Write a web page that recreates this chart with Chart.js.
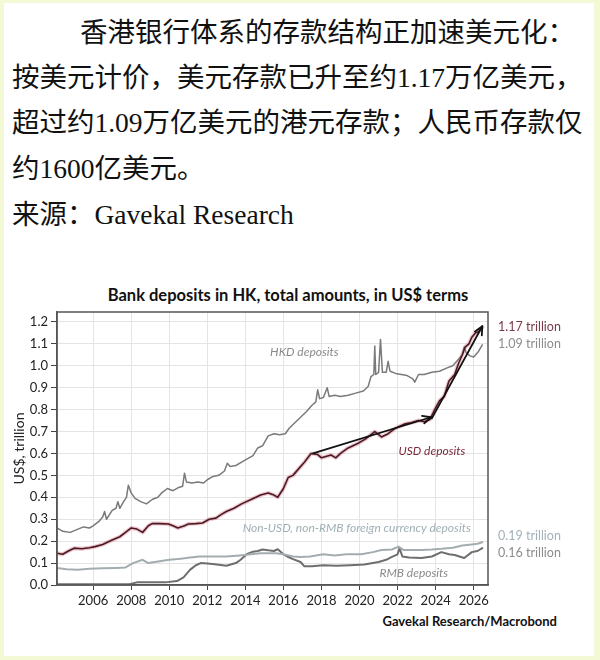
<!DOCTYPE html>
<html><head><meta charset="utf-8">
<script src="https://cdn.jsdelivr.net/npm/chart.js@4.4.1/dist/chart.umd.min.js"></script>
<style>
html,body{margin:0;padding:0;}
body{width:600px;height:660px;background:#f2f9d4;position:relative;overflow:hidden;}
#page{position:absolute;left:4px;top:3px;width:590px;height:653px;background:#fff;}
.cn{position:absolute;left:12px;font-family:"Liberation Serif","Noto Sans CJK SC",serif;font-size:27.5px;color:#111;white-space:nowrap;line-height:36px;}
#title{position:absolute;left:88px;width:400px;top:285px;line-height:20px;text-align:center;font-family:Lato,sans-serif;font-weight:700;font-size:16.5px;color:#111;white-space:nowrap;}
#source{position:absolute;right:43px;top:612px;line-height:18px;font-family:Lato,sans-serif;font-weight:700;font-size:13px;color:#111;white-space:nowrap;}
canvas{position:absolute;left:0;top:0;}
</style></head>
<body>
<div id="page"></div>
<div class="cn" style="top:15px;text-indent:68px;">香港银行体系的存款结构正加速美元化：</div>
<div class="cn" style="top:60px;">按美元计价，美元存款已升至约1.17万亿美元，</div>
<div class="cn" style="top:105px;">超过约1.09万亿美元的港元存款；人民币存款仅</div>
<div class="cn" style="top:151px;">约1600亿美元。</div>
<div class="cn" style="top:197px;">来源：Gavekal Research</div>
<div id="title">Bank deposits in HK, total amounts, in US$ terms</div>
<div id="source">Gavekal Research/Macrobond</div>
<canvas id="c" width="600" height="660"></canvas>
<script>
const hkdYears = [2004.1,2004.4,2004.8,2005.2,2005.5,2005.8,2006.0,2006.3,2006.5,2006.6,2006.7,2007.0,2007.2,2007.3,2007.4,2007.6,2007.75,2007.85,2008.0,2008.2,2008.5,2008.8,2009.1,2009.4,2009.6,2009.9,2010.2,2010.5,2010.7,2010.8,2010.9,2011.2,2011.5,2011.8,2012.0,2012.3,2012.6,2012.9,2013.05,2013.2,2013.5,2013.8,2014.1,2014.4,2014.65,2014.9,2015.2,2015.5,2015.8,2016.1,2016.3,2016.6,2016.9,2017.2,2017.5,2017.7,2017.8,2017.9,2018.1,2018.3,2018.4,2018.7,2019.0,2019.4,2019.8,2020.2,2020.45,2020.6,2020.75,2020.8,2020.85,2021.0,2021.1,2021.2,2021.4,2021.5,2021.6,2021.9,2022.2,2022.5,2022.8,2022.9,2023.1,2023.4,2023.8,2024.2,2024.6,2024.9,2025.2,2025.4,2025.5,2025.6,2025.8,2026.0,2026.25,2026.45];
const hkdValues = [0.26,0.245,0.24,0.255,0.265,0.26,0.27,0.29,0.31,0.335,0.30,0.34,0.35,0.38,0.35,0.38,0.40,0.455,0.42,0.395,0.38,0.37,0.39,0.40,0.42,0.44,0.43,0.445,0.45,0.51,0.47,0.465,0.47,0.465,0.48,0.495,0.50,0.52,0.555,0.54,0.545,0.56,0.575,0.59,0.625,0.635,0.68,0.69,0.685,0.69,0.715,0.74,0.765,0.79,0.82,0.835,0.89,0.85,0.855,0.90,0.86,0.865,0.86,0.865,0.875,0.885,0.905,0.95,0.96,1.09,0.96,0.97,1.12,0.97,0.97,1.02,0.975,0.965,0.96,0.955,0.94,0.925,0.96,0.96,0.97,0.975,0.99,1.0,1.03,1.05,1.085,1.06,1.045,1.04,1.065,1.095];

const usdYears = [2004.1,2004.4,2004.7,2005.0,2005.4,2005.8,2006.1,2006.5,2007.0,2007.4,2007.7,2008.0,2008.3,2008.6,2008.9,2009.1,2009.5,2009.95,2010.2,2010.45,2010.8,2011.0,2011.4,2011.75,2012.1,2012.45,2012.7,2013.0,2013.4,2013.8,2014.3,2014.8,2015.2,2015.5,2015.7,2016.0,2016.25,2016.5,2016.75,2017.1,2017.45,2017.8,2018.0,2018.5,2018.75,2019.0,2019.4,2019.9,2020.3,2020.8,2021.15,2021.5,2021.8,2022.0,2022.4,2022.7,2023.1,2023.4,2023.7,2023.95,2024.2,2024.45,2024.7,2025.0,2025.2,2025.4,2025.55,2025.75,2025.9,2026.1,2026.25,2026.45];
const usdValues = [0.145,0.14,0.155,0.168,0.165,0.17,0.175,0.185,0.205,0.22,0.24,0.26,0.255,0.24,0.27,0.28,0.28,0.278,0.27,0.26,0.27,0.278,0.28,0.283,0.30,0.305,0.32,0.335,0.35,0.37,0.39,0.41,0.42,0.41,0.40,0.44,0.49,0.50,0.525,0.56,0.60,0.595,0.58,0.593,0.58,0.60,0.625,0.645,0.665,0.70,0.675,0.69,0.71,0.72,0.735,0.74,0.75,0.745,0.755,0.80,0.84,0.86,0.93,0.96,1.01,1.05,1.085,1.10,1.13,1.15,1.155,1.175];

const otherYears = [2004.1,2004.6,2005.2,2005.8,2006.5,2007.2,2007.7,2008.1,2008.6,2008.9,2009.5,2010.0,2010.6,2011.1,2011.6,2012.3,2013.0,2013.7,2014.3,2014.8,2015.2,2015.6,2016.0,2016.5,2016.9,2017.4,2018.1,2018.7,2019.3,2020.1,2020.7,2021.15,2021.7,2022.05,2022.3,2022.8,2023.25,2023.8,2024.3,2024.9,2025.4,2025.9,2026.2,2026.45];
const otherValues = [0.078,0.072,0.07,0.074,0.076,0.078,0.08,0.10,0.115,0.10,0.108,0.115,0.12,0.125,0.13,0.13,0.13,0.135,0.14,0.145,0.145,0.145,0.14,0.13,0.128,0.13,0.14,0.135,0.14,0.14,0.15,0.16,0.162,0.175,0.16,0.16,0.16,0.162,0.165,0.17,0.18,0.185,0.188,0.195];

const rmbYears = [2004.1,2006.0,2007.9,2008.3,2009.0,2009.8,2010.4,2010.75,2011.1,2011.4,2011.65,2012.0,2012.4,2013.0,2013.5,2013.75,2014.1,2014.4,2014.65,2014.9,2015.2,2015.5,2015.7,2016.0,2016.2,2016.5,2016.9,2017.1,2017.5,2018.1,2018.8,2019.5,2020.25,2020.7,2021.0,2021.4,2021.7,2022.0,2022.1,2022.25,2022.6,2023.25,2023.8,2024.3,2024.7,2025.0,2025.5,2025.9,2026.2,2026.45];
const rmbValues = [0.003,0.003,0.003,0.012,0.012,0.012,0.018,0.035,0.07,0.09,0.10,0.098,0.095,0.088,0.10,0.115,0.142,0.152,0.155,0.162,0.158,0.155,0.163,0.14,0.13,0.118,0.105,0.085,0.086,0.09,0.088,0.09,0.093,0.10,0.105,0.115,0.128,0.14,0.168,0.13,0.125,0.123,0.13,0.15,0.14,0.137,0.123,0.15,0.155,0.168];

const trend1Years = [2017.55, 2023.75];
const trend1Values = [0.60, 0.765];
const trend2Years = [2023.8, 2026.45];
const trend2Values = [0.76, 1.18];

const xTicks = [2006,2008,2010,2012,2014,2016,2018,2020,2022,2024,2026];
const yTicks = [0,0.1,0.2,0.3,0.4,0.5,0.6,0.7,0.8,0.9,1.0,1.1,1.2];

const seriesNotes = [
  {text:'HKD deposits', x:2017.1, y:1.063, color:'#8a8a8a'},
  {text:'USD deposits', x:2023.8, y:0.611, color:'#7b2b3b'},
  {text:'Non-USD, non-RMB foreign currency deposits', x:2019.85, y:0.26, color:'#9fb0b5'},
  {text:'RMB deposits', x:2022.85, y:0.055, color:'#8a8a8a'}
];
const endLabels = [
  {text:'1.17 trillion', y:1.177, color:'#7a3a48'},
  {text:'1.09 trillion', y:1.10, color:'#8c8c8c'},
  {text:'0.19 trillion', y:0.224, color:'#a2b2b8'},
  {text:'0.16 trillion', y:0.146, color:'#8c8c8c'}
];

const pts = (xs, ys) => xs.map((x, i) => ({x: x, y: ys[i]}));

const notesPlugin = {
  id: 'notes',
  afterDatasetsDraw(chart) {
    const ctx = chart.ctx, xs = chart.scales.x, ys = chart.scales.y, a = chart.chartArea;
    [[trend1Years, trend1Values], [trend2Years, trend2Values]].forEach(([tx, tv]) => {
      const x1 = xs.getPixelForValue(tx[0]), y1 = ys.getPixelForValue(tv[0]);
      const x2 = xs.getPixelForValue(tx[1]), y2 = ys.getPixelForValue(tv[1]);
      const ang = Math.atan2(y2 - y1, x2 - x1), L = 9, w = 0.45;
      ctx.save();
      ctx.strokeStyle = '#111'; ctx.lineWidth = 1.8; ctx.lineCap = 'round'; ctx.lineJoin = 'round';
      ctx.beginPath();
      ctx.moveTo(x2 - L * Math.cos(ang - w), y2 - L * Math.sin(ang - w));
      ctx.lineTo(x2, y2);
      ctx.lineTo(x2 - L * Math.cos(ang + w), y2 - L * Math.sin(ang + w));
      ctx.stroke();
      ctx.restore();
    });
    ctx.save();
    ctx.strokeStyle = '#555'; ctx.lineWidth = 1.5;
    ctx.strokeRect(a.left, a.top, a.right - a.left, a.bottom - a.top);
    ctx.restore();
    ctx.save();
    ctx.font = 'italic 12px Lato';
    ctx.textAlign = 'center'; ctx.textBaseline = 'middle';
    seriesNotes.forEach(n => {
      ctx.fillStyle = n.color;
      ctx.fillText(n.text, xs.getPixelForValue(n.x), ys.getPixelForValue(n.y));
    });
    ctx.font = '12.5px Lato';
    ctx.textAlign = 'left';
    endLabels.forEach(n => {
      ctx.fillStyle = n.color;
      ctx.fillText(n.text, a.right + 10, ys.getPixelForValue(n.y));
    });
    ctx.restore();
  }
};

const lineDs = (label, data, color, width, order) => ({
  label: label, data: data, borderColor: color, borderWidth: width, pointRadius: 0,
  tension: 0, fill: false, borderJoinStyle: 'round', borderCapStyle: 'round', order: order
});

new Chart(document.getElementById('c'), {
  type: 'line',
  data: {
    datasets: [
      lineDs('Trend 1', pts(trend1Years, trend1Values), '#111', 1.8, 0),
      lineDs('Trend 2', pts(trend2Years, trend2Values), '#111', 1.8, 0),
      lineDs('USD deposits', pts(usdYears, usdValues), '#4a1a25', 1.6, 1),
      lineDs('USD halo', pts(usdYears, usdValues), 'rgba(205,80,100,0.32)', 4, 2),
      lineDs('HKD deposits', pts(hkdYears, hkdValues), '#7a7a7a', 1.5, 3),
      lineDs('Non-USD, non-RMB', pts(otherYears, otherValues), '#a3adb0', 2, 4),
      lineDs('RMB deposits', pts(rmbYears, rmbValues), '#6e6e6e', 2, 4)
    ]
  },
  options: {
    responsive: false,
    animation: false,
    layout: {padding: {left: 8, top: 312, right: 112, bottom: 45}},
    plugins: {legend: {display: false}, title: {display: false}, tooltip: {enabled: false}},
    scales: {
      x: {
        type: 'linear', min: 2004.1, max: 2026.75,
        afterBuildTicks: s => { s.ticks = xTicks.map(v => ({value: v})); },
        afterFit: s => { s.height = 30; },
        grid: {color: '#e4e4e4', lineWidth: 1, tickLength: 5, tickColor: '#444', drawTicks: true},
        border: {display: true, color: '#555', width: 1.5},
        ticks: {color: '#222', font: {family: 'Lato', size: 13}, padding: 3, maxRotation: 0, autoSkip: false, callback: v => String(v)}
      },
      y: {
        min: 0, max: 1.245,
        afterBuildTicks: s => { s.ticks = yTicks.map(v => ({value: v})); },
        afterFit: s => { s.width = 49; },
        grid: {color: '#e4e4e4', lineWidth: 1, tickLength: 6, tickColor: '#444', drawTicks: true},
        border: {display: true, color: '#555', width: 1.5},
        ticks: {color: '#222', font: {family: 'Lato', size: 13}, padding: 3, callback: v => v.toFixed(1)},
        title: {display: true, text: 'US$, trillion', color: '#222', font: {family: 'Lato', size: 14}, padding: {top: 3, bottom: 0}}
      }
    }
  },
  plugins: [notesPlugin]
});
</script>
</body></html>
